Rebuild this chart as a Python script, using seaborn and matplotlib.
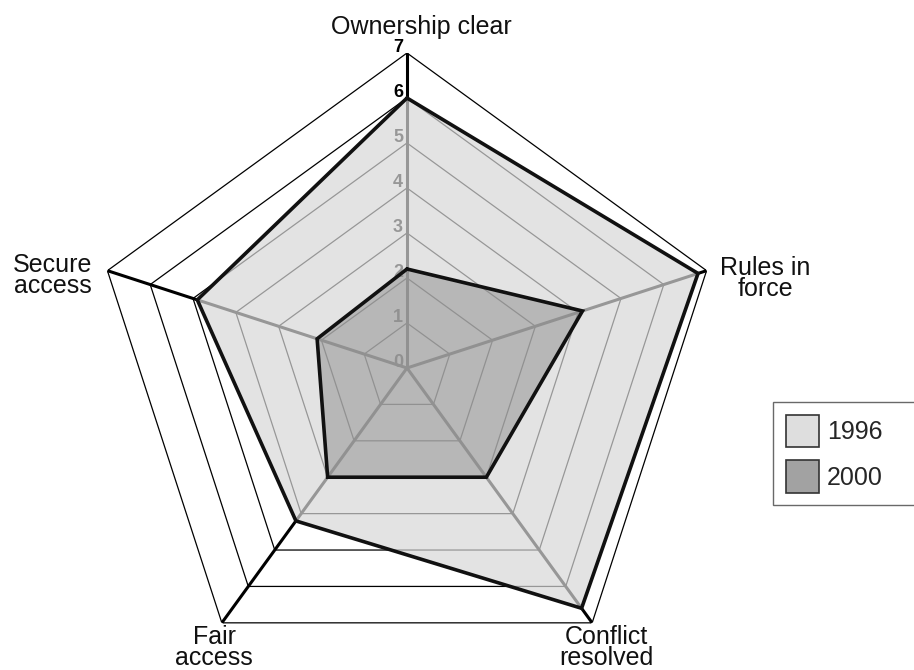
import numpy as np
import matplotlib
matplotlib.use("Agg")
import matplotlib.pyplot as plt
from matplotlib.patches import Patch
import seaborn as sns

# ---- data ----
categories = ["Ownership clear", "Rules in force", "Conflict resolved", "Fair access", "Secure access"]
cat_labels = ["Ownership clear", "Rules in\nforce", "Conflict\nresolved", "Fair\naccess", "Secure\naccess"]
values_1996 = [6.0, 6.8, 6.6, 4.2, 4.9]
values_2000 = [2.2, 4.1, 3.0, 3.0, 2.1]
series_names = ["1996", "2000"]
scale_ticks = [0, 1, 2, 3, 4, 5, 6, 7]

sns.set_theme(style="white")
plt.rcParams["font.family"] = ["Liberation Sans", "DejaVu Sans"]

fig = plt.figure(figsize=(9.14, 6.70), dpi=100)
# polar axes centred at (407, 368) px with radius 315 px
ax = fig.add_axes([92 / 914, (670 - 368 - 315) / 670, 630 / 914, 630 / 670], projection="polar")
ax.set_theta_offset(np.pi / 2)
ax.set_theta_direction(-1)
ax.set_ylim(0, 7)
ax.grid(False)
ax.set_xticks([])
ax.set_yticks([])
ax.spines["polar"].set_visible(False)
ax.patch.set_alpha(0)

n = len(categories)
theta = np.linspace(0, 2 * np.pi, n, endpoint=False)
theta_c = np.append(theta, theta[0])

# pentagon grid rings
for r in scale_ticks[1:]:
    ax.plot(theta_c, [r] * (n + 1), color="black", lw=0.9, zorder=1)
# spokes
for t in theta:
    ax.plot([t, t], [0, scale_ticks[-1]], color="black", lw=2.2, zorder=1.2, solid_capstyle="butt")

# scale labels along the top spoke
for r in scale_ticks:
    ax.annotate(str(r), xy=(0, r), xytext=(-6.5, 4.0), textcoords="offset points",
                ha="center", va="center", fontsize=13, fontweight="bold",
                color="black", zorder=1.5)

c1996 = "#d8d8d8"
c2000 = "#8c8c8c"
v96 = np.append(values_1996, values_1996[0])
v00 = np.append(values_2000, values_2000[0])
ax.fill(theta_c, v96, color=c1996, alpha=0.7, lw=0, zorder=2)
ax.fill(theta_c, v00, color=c2000, alpha=0.5, lw=0, zorder=3)
ax.plot(theta_c, v96, color="#111111", lw=2.6, zorder=4, solid_joinstyle="miter")
ax.plot(theta_c, v00, color="#111111", lw=2.6, zorder=4, solid_joinstyle="miter")

# category labels (offsets in points from the outer vertex)
offsets = [(10, 19), (42.5, -5.5), (10.5, -18), (-5.5, -18), (-39.5, -3.5)]
for t, lab, off in zip(theta, cat_labels, offsets):
    ax.annotate(lab, xy=(t, 7), xytext=off, textcoords="offset points",
                ha="center", va="center", fontsize=18, color="#111111",
                linespacing=0.85, annotation_clip=False)

handles = [Patch(facecolor="#dedede", edgecolor="#333333", lw=1.2),
           Patch(facecolor="#a2a2a2", edgecolor="#333333", lw=1.2)]
leg = fig.legend(handles, series_names, loc="upper left",
                 bbox_to_anchor=(773 / 914, 1 - 507 / 670, 145 / 914, 105 / 670),
                 mode="expand",
                 fontsize=18, frameon=True, fancybox=False,
                 edgecolor="#444444", handlelength=1.35, handleheight=1.6,
                 handletextpad=0.3, labelspacing=0.55, borderpad=0.5,
                 borderaxespad=0)
leg.get_frame().set_linewidth(1.0)
leg.get_frame().set_facecolor("white")

fig.savefig("out.png", dpi=100)
